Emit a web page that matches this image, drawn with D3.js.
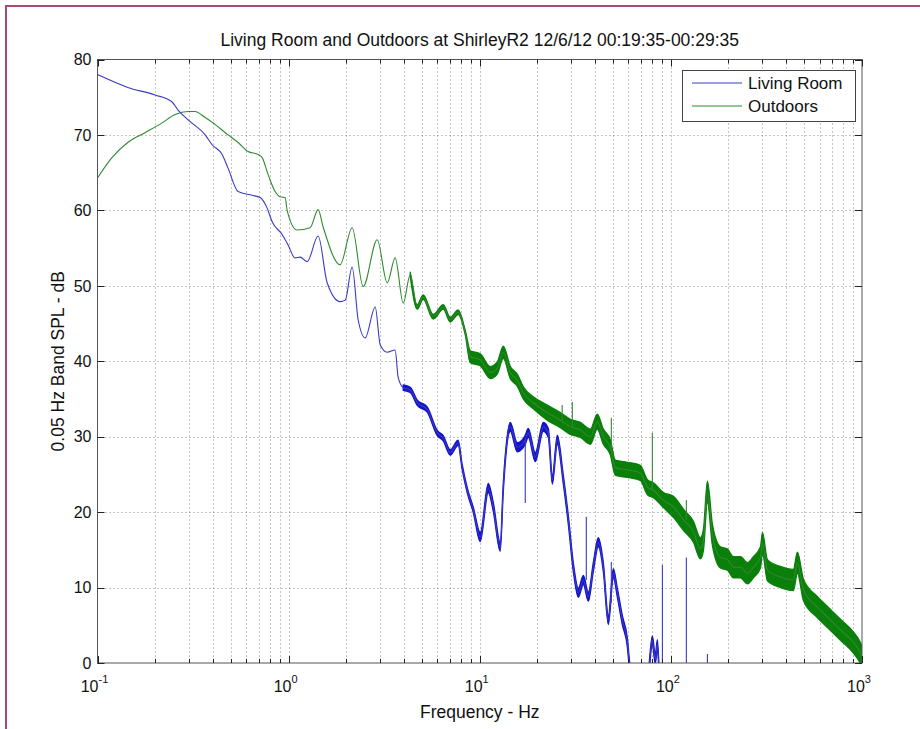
<!DOCTYPE html>
<html><head><meta charset="utf-8">
<script src="https://cdn.jsdelivr.net/npm/d3@7"></script>
<style>body{margin:0;background:#fff}svg{display:block}text{font-family:"Liberation Sans",Arial,Helvetica,sans-serif}</style>
</head><body>
<svg id="c" width="920" height="729"></svg>
<script>
// ---- data ----
const titleText = "Living Room and Outdoors at ShirleyR2 12/6/12 00:19:35-00:29:35";
const xLabel = "Frequency - Hz";
const yLabel = "0.05 Hz Band SPL - dB";
const seriesNames = ["Living Room", "Outdoors"];
const yTicks = [0, 10, 20, 30, 40, 50, 60, 70, 80];
const xDecades = [0.1, 1, 10, 100, 1000];
const xDecadeExponents = ["-1", "0", "1", "2", "3"];

const livingFreq = [0.1, 0.144, 0.2, 0.245, 0.264, 0.298, 0.366, 0.398, 0.449, 0.482, 0.544, 0.644, 0.709, 0.772, 0.82, 0.925, 0.994, 1.08, 1.148, 1.25, 1.427, 1.591, 1.86, 1.977, 2.15, 2.311, 2.515, 2.838, 3.014, 3.28, 3.61, 3.74, 3.977, 4.33, 4.71, 5.31, 5.99, 6.44, 7.01, 7.71, 8.09, 8.6, 9.25, 10.06, 11.08, 11.77, 12.8, 13.28, 14.45, 15.72, 17.3, 17.94, 19.53, 21.5, 22.85, 23.98, 25.46, 27.37, 29.06, 30.87, 32.8, 34.84, 36.99, 39.28, 41.72, 44.32, 47.08, 50.0, 52.5, 55.7, 59.2, 60.6, 65, 75, 80, 82.9, 85, 88, 100, 1000];
const livingLevel = [78.0, 76.3, 75.3, 74.4, 73.3, 72.0, 70.0, 68.7, 67.4, 65.6, 62.5, 62.0, 61.7, 60.3, 58.5, 56.8, 55.4, 53.7, 53.8, 53.2, 56.6, 50.4, 47.9, 48.1, 52.5, 45.5, 43.1, 47.2, 42.2, 41.2, 41.5, 37.9, 36.5, 36.2, 34.5, 33.6, 30.5, 29.8, 27.9, 29.2, 26.0, 22.9, 20.3, 16.7, 23.2, 20.7, 15.4, 23.3, 31.3, 28.6, 29.6, 30.5, 27.3, 31.3, 30.5, 24.3, 29.6, 24.3, 19.0, 12.7, 9.3, 11.0, 8.8, 12.7, 16.0, 12.7, 5.7, 11.9, 9.3, 5.7, 2.7, 0, -4, -3, 3, 0.5, 2.5, -4, -8, -20];
// half-width of the fuzzy noise band at each point (dB)
const livingNoise = [0,0,0,0,0,0,0,0,0,0, 0,0,0,0,0,0,0,0,0,0, 0,0,0,0,0,0,0,0,0,0, 0, 0, 0.35,0.35,0.35,0.35,0.35,0.35,0.35,0.35,0.35,0.35,0.35, 0.6,0.6,0.6,0.6,0.6,0.6,0.6,0.6,0.6,0.6,0.6,0.6,0.6,0.6,0.6,0.6,0.6,0.6,0.6,0.6,0.6,0.6,0.6,0.6,0.6,0.6,0.6,0.6,0.6, 0.6,0.6,0.6,0.6,0.6,0.6,0.6,0.6];
// narrow spikes: [Hz, from dB, to dB]
const livingSpikes = [[17.3, 29.6, 21.2], [36.1, 11.0, 19.4], [48.8, 8.0, 13.4], [90.3, -5, 13.0], [120.5, -5, 14.0], [155.3, -5, 1.2]];

const outdoorsFreq = [0.1, 0.119, 0.144, 0.1774, 0.2177, 0.2546, 0.298, 0.324, 0.366, 0.412, 0.482, 0.544, 0.614, 0.692, 0.727, 0.782, 0.85, 0.903, 0.959, 0.982, 1.108, 1.296, 1.427, 1.516, 1.86, 2.15, 2.455, 2.907, 3.28, 3.61, 3.977, 4.33, 4.71, 5.06, 5.71, 6.44, 7.01, 7.71, 8.4, 8.92, 10.06, 11.35, 12.35, 13.28, 14.45, 15.72, 16.9, 19.06, 22.56, 26.4, 29.77, 33.6, 37.9, 41.2, 44.32, 48.2, 51.2, 59.2, 69.2, 75.4, 81.0, 91.4, 103.1, 116.3, 131.2, 142.7, 148.0, 155.3, 164.9, 181.6, 197.7, 212.5, 231.1, 251.5, 270.4, 294.3, 301.4, 320.0, 374.3, 437.7, 459.3, 493.8, 584.8, 659.6, 771.5, 902.8, 982, 1000];
const outdoorsLevel = [64.3, 67.0, 69.0, 70.3, 71.6, 72.7, 73.1, 73.1, 72.3, 71.4, 70.0, 69.0, 67.8, 67.4, 67.0, 64.7, 62.5, 61.8, 61.7, 60.0, 57.4, 57.7, 60.1, 57.8, 52.8, 57.7, 49.9, 56.1, 50.4, 53.7, 47.7, 51.5, 47.2, 48.5, 45.9, 47.2, 45.5, 46.5, 43.8, 40.6, 40.2, 38.5, 39.1, 41.2, 38.5, 37.5, 35.8, 34.5, 33.2, 32.2, 31.3, 30.9, 30.0, 32.0, 30.0, 28.6, 25.9, 25.6, 25.2, 23.3, 22.9, 21.6, 20.7, 19.0, 17.4, 15.2, 16.3, 22.7, 17.0, 14.0, 13.7, 12.7, 12.7, 11.9, 12.7, 14.0, 15.9, 12.3, 11.4, 11.0, 13.3, 9.7, 7.4, 6.1, 4.4, 2.7, 1.3, 0.8];
const outdoorsNoise = [0,0,0,0,0,0,0,0,0,0, 0,0,0,0,0,0,0,0,0,0, 0,0,0,0,0,0, 0,0,0,0,0, 0.3,0.3,0.3,0.3,0.3,0.3,0.3,0.3, 0.8,0.8,0.8,0.8,0.8,0.8,0.8,0.8,0.8, 1.0,1.0,1.0,1.0,1.0,1.0,1.0,1.0,1.0,1.0,1.0,1.0,1.0,1.0, 1.4,1.4,1.4,1.4,1.4,1.4,1.4,1.4,1.4,1.4,1.4,1.4,1.4,1.4,1.4,1.4,1.4,1.4,1.4,1.4,1.4,1.4,1.4,1.4,1.4,1.4];
const outdoorsSpikes = [[27.0, 32.0, 34.2], [30.5, 31.3, 34.6], [48.8, 28.5, 32.5], [80.0, 23.0, 30.5], [120.5, 19.0, 21.6]];

const livingColor = "#3a3ac4", livingBand = "#1414c8";
const outdoorsColor = "#2f8a2f", outdoorsBand = "#0a7f0a";

// ---- layout ----
const svg = d3.select("#c");
const L = 97.5, R = 862, T = 59.5, B = 663;
const x = d3.scaleLog().domain([0.1, 1000]).range([L, R]);
const y = d3.scaleLinear().domain([0, 80]).range([B, T]);

// frame
svg.append("rect").attr("x", 6).attr("y", 6).attr("width", 1000).attr("height", 1000)
  .attr("fill", "none").attr("stroke", "#a24d78").attr("stroke-width", 2);

// grid
const allX = x.ticks();
const g = svg.append("g");
g.selectAll("line.vx").data(allX.filter(d => d > 0.1 && d < 1000)).join("line")
  .attr("x1", d => Math.round(x(d)) + 0.5).attr("x2", d => Math.round(x(d)) + 0.5)
  .attr("y1", T).attr("y2", B).attr("stroke", "#8a8a8a").attr("stroke-dasharray", "1,3");
g.selectAll("line.hy").data(yTicks.filter(d => d > 0 && d < 80)).join("line")
  .attr("y1", d => Math.round(y(d)) + 0.5).attr("y2", d => Math.round(y(d)) + 0.5)
  .attr("x1", L).attr("x2", R).attr("stroke", "#8a8a8a").attr("stroke-dasharray", "1,3");

// clip
svg.append("clipPath").attr("id", "clip").append("rect")
  .attr("x", L).attr("y", T).attr("width", R - L).attr("height", B - T);
const plot = svg.append("g").attr("clip-path", "url(#clip)");

function drawSeries(freq, level, noise, spikes, color, band) {
  const pts = freq.map((f, i) => ({ f, v: level[i], n: noise[i] }));
  const noisy = pts.filter(p => p.n > 0);
  plot.append("path").datum(noisy)
    .attr("d", d3.area().curve(d3.curveMonotoneX).x(p => x(p.f)).y0(p => y(p.v - p.n)).y1(p => y(p.v + p.n)))
    .attr("fill", band).attr("stroke", band).attr("stroke-width", 1.3).attr("stroke-linejoin", "round");
  plot.append("path").datum(pts)
    .attr("d", d3.line().curve(d3.curveMonotoneX).x(p => x(p.f)).y(p => y(p.v)))
    .attr("fill", "none").attr("stroke", color).attr("stroke-width", 1.1);
  plot.selectAll(null).data(spikes).join("line")
    .attr("x1", d => x(d[0])).attr("x2", d => x(d[0]))
    .attr("y1", d => y(d[1])).attr("y2", d => y(d[2]))
    .attr("stroke", color).attr("stroke-width", 1.1);
}
drawSeries(outdoorsFreq, outdoorsLevel, outdoorsNoise, outdoorsSpikes, outdoorsColor, outdoorsBand);
drawSeries(livingFreq, livingLevel, livingNoise, livingSpikes, livingColor, livingBand);

// axes box and ticks (inside)
const ax = svg.append("g").attr("stroke", "#555").attr("stroke-width", 1);
ax.append("rect").attr("x", L).attr("y", T).attr("width", R - L).attr("height", B - T).attr("fill", "none");
const minorX = allX.filter(d => !xDecades.includes(d));
[[xDecades, 7], [minorX, 4]].forEach(([vals, len]) => {
  vals.forEach(v => {
    const px = Math.round(x(v)) + 0.5;
    ax.append("line").attr("x1", px).attr("x2", px).attr("y1", B).attr("y2", B - len).attr("stroke", "#222");
    ax.append("line").attr("x1", px).attr("x2", px).attr("y1", T).attr("y2", T + len).attr("stroke", "#222");
  });
});
yTicks.forEach(v => {
  const py = Math.round(y(v)) + 0.5;
  ax.append("line").attr("x1", L).attr("x2", L + 7).attr("y1", py).attr("y2", py).attr("stroke", "#222");
  ax.append("line").attr("x1", R).attr("x2", R - 7).attr("y1", py).attr("y2", py).attr("stroke", "#222");
});

// y tick labels
svg.selectAll("text.yt").data(yTicks).join("text")
  .attr("x", L - 6).attr("y", d => y(d)).attr("dy", "0.36em")
  .attr("text-anchor", "end").attr("font-size", 16).attr("fill", "#111").text(d => d);

// x tick labels with exponents
xDecades.forEach((v, i) => {
  const t = svg.append("text").attr("x", x(v) - 3).attr("y", 692)
    .attr("text-anchor", "middle").attr("font-size", 16).attr("fill", "#111");
  t.append("tspan").text("10");
  t.append("tspan").attr("dy", -9).attr("font-size", 11).text(xDecadeExponents[i]);
});

// title and labels
svg.append("text").attr("x", (L + R) / 2).attr("y", 46).attr("text-anchor", "middle")
  .attr("font-size", 17.5).attr("fill", "#111").text(titleText);
svg.append("text").attr("x", (L + R) / 2).attr("y", 718).attr("text-anchor", "middle")
  .attr("font-size", 17.5).attr("fill", "#111").text(xLabel);
svg.append("text").attr("transform", `translate(64,${(T + B) / 2}) rotate(-90)`)
  .attr("text-anchor", "middle").attr("font-size", 17.5).attr("fill", "#111").text(yLabel);

// legend
const lg = svg.append("g");
lg.append("rect").attr("x", 682.5).attr("y", 70.5).attr("width", 173).attr("height", 51)
  .attr("fill", "#fff").attr("stroke", "#444");
[[seriesNames[0], livingColor], [seriesNames[1], outdoorsColor]].forEach(([name, col], i) => {
  const yy = 83 + i * 23;
  lg.append("line").attr("x1", 692).attr("x2", 742).attr("y1", yy).attr("y2", yy)
    .attr("stroke", col).attr("stroke-width", 1.1);
  lg.append("text").attr("x", 748).attr("y", yy).attr("dy", "0.36em")
    .attr("font-size", 17).attr("fill", "#111").text(name);
});
</script>
</body></html>
